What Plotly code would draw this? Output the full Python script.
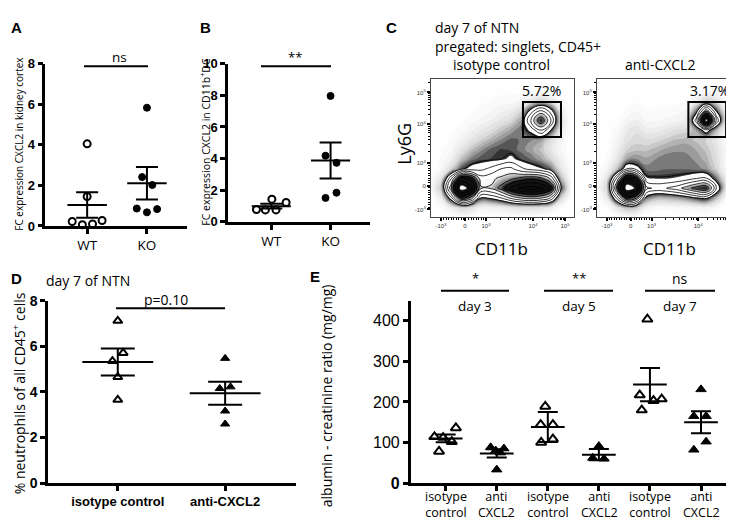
import math
import plotly.graph_objects as go

W, H = 734, 523


def PX(x):
    return x / W


def PY(y):
    return 1 - y / H


TXT = "Open Sans"
NUM = "Liberation Sans"

# ---------------- Panel A data ----------------
A_labels = ["WT", "KO"]
A_wt = [4.05, 1.45, 0.22, 0.06, 0.10, 0.27]
A_wt_jit = [0.0, 0.0, -0.25, -0.08, 0.09, 0.25]
A_ko = [5.83, 2.41, 2.02, 0.86, 0.67, 0.83]
A_ko_jit = [0.0, -0.08, 0.09, -0.17, 0.0, 0.17]
A_mean = [1.03, 2.11]
A_sem = [0.63, 0.80]

# ---------------- Panel B data ----------------
B_labels = ["WT", "KO"]
B_wt = [0.78, 0.75, 0.75, 1.43, 1.22]
B_wt_jit = [-0.25, -0.10, 0.08, 0.01, 0.25]
B_ko = [7.96, 4.18, 3.73, 1.51, 1.84]
B_ko_jit = [0.0, -0.085, 0.10, -0.085, 0.10]
B_mean = [0.99, 3.88]
B_sem = [0.15, 1.14]

# ---------------- Panel D data ----------------
D_labels = ["isotype control", "anti-CXCL2"]
D_iso = [7.12, 5.71, 5.35, 4.65, 3.65]
D_iso_jit = [0.0, 0.05, -0.05, 0.0, 0.0]
D_anti = [5.47, 4.15, 4.22, 3.16, 2.59]
D_anti_jit = [0.0, -0.05, 0.05, 0.0, 0.0]
D_mean = [5.31, 3.94]
D_sem = [0.59, 0.50]

# ---------------- Panel E data ----------------
E_labels = ["isotype<br>control", "anti<br>CXCL2"] * 3
E_days = ["day 3", "day 5", "day 7"]
E_iso_d3 = [136, 114, 112, 102, 78]
E_iso_d3_jit = [0.20, -0.22, -0.05, 0.12, -0.13]
E_anti_d3 = [88, 85, 80, 75, 33]
E_anti_d3_jit = [-0.12, 0.14, -0.02, 0.07, 0.0]
E_iso_d5 = [189, 144, 144, 100, 108]
E_iso_d5_jit = [-0.05, -0.14, 0.10, -0.13, 0.10]
E_anti_d5 = [91, 62, 60]
E_anti_d5_jit = [0.0, -0.12, 0.10]
E_iso_d7 = [404, 217, 180, 203, 207]
E_iso_d7_jit = [-0.05, -0.20, -0.16, 0.07, 0.23]
E_anti_d7 = [231, 165, 165, 82, 102]
E_anti_d7_jit = [0.0, -0.14, 0.10, -0.14, 0.10]
E_mean = [110, 73, 138, 70, 243, 150]
E_sem = [9.5, 10, 37, 14, 41, 27]

# ---------------- Panel C (flow density, read by eye, rows top->bottom) ----------------
C_grid_x = [0, 10, 20, 30, 40, 50, 60, 70, 80, 90, 100, 110, 120, 130, 140]
C_grid_y_top_down = [140, 130, 120, 110, 100, 90, 80, 70, 60, 50, 40, 30, 20, 10, 0]
C_iso_density = [
    [0, 0, 0, 0, 0, 0, 0.15, 0.2, 0.2, 0.2, 0.2, 0.2, 0.15, 0, 0],
    [0, 0, 0, 0, 0.1, 0.2, 0.3, 0.3, 0.3, 0.3, 0.4, 0.4, 0.3, 0.1, 0],
    [0, 0, 0, 0.1, 0.2, 0.3, 0.4, 0.5, 0.5, 0.7, 1.2, 1.6, 1.2, 0.5, 0.2],
    [0, 0, 0, 0.2, 0.3, 0.5, 0.6, 0.8, 1.0, 1.5, 3.4, 4.8, 3.4, 1.0, 0.3],
    [0, 0, 0.2, 0.3, 0.5, 0.7, 0.9, 1.2, 1.5, 2.2, 4.8, 7.0, 4.6, 1.3, 0.3],
    [0, 0, 0.3, 0.5, 0.8, 1.1, 1.4, 1.8, 2.2, 2.6, 3.3, 4.6, 3.0, 1.0, 0.3],
    [0, 0.2, 0.4, 0.8, 1.2, 1.6, 2.0, 2.4, 2.7, 2.6, 2.4, 2.2, 1.4, 0.7, 0.2],
    [0, 0.3, 0.6, 1.2, 1.8, 2.3, 2.7, 2.9, 2.8, 2.5, 2.2, 1.8, 1.2, 0.6, 0.2],
    [0.1, 0.4, 0.9, 1.8, 2.5, 2.8, 2.9, 3.0, 3.3, 2.9, 2.6, 2.2, 1.6, 0.9, 0.3],
    [0.2, 0.6, 1.5, 2.8, 3.4, 3.6, 4.0, 4.6, 4.8, 4.0, 3.5, 3.2, 2.6, 1.2, 0.4],
    [0.4, 1.2, 4.5, 8.0, 7.5, 5.0, 5.2, 5.6, 6.0, 6.5, 6.8, 6.5, 5.2, 2.0, 0.5],
    [0.5, 1.8, 6.0, 10, 9.0, 5.5, 5.5, 6.5, 8.0, 8.8, 9.0, 8.8, 7.6, 3.0, 0.6],
    [0.3, 1.0, 3.5, 7.0, 6.0, 3.0, 3.2, 3.8, 4.8, 5.5, 5.8, 5.5, 4.5, 1.6, 0.3],
    [0.1, 0.4, 1.0, 1.6, 1.4, 0.8, 0.8, 1.0, 1.2, 1.4, 1.4, 1.3, 1.0, 0.4, 0.1],
    [0, 0.1, 0.3, 0.5, 0.4, 0.2, 0.2, 0.2, 0.3, 0.3, 0.3, 0.3, 0.2, 0.1, 0],
]
C_anti_density = [
    [0, 0, 0, 0.1, 0.1, 0.1, 0.1, 0.1, 0.1, 0.1, 0.1, 0.2, 0.1, 0.1, 0],
    [0, 0, 0.1, 0.2, 0.2, 0.2, 0.2, 0.2, 0.2, 0.2, 0.3, 0.5, 0.4, 0.2, 0],
    [0, 0, 0.1, 0.2, 0.3, 0.3, 0.3, 0.3, 0.3, 0.4, 0.9, 1.8, 1.4, 0.4, 0.1],
    [0, 0.1, 0.2, 0.4, 0.6, 0.4, 0.4, 0.4, 0.5, 0.7, 2.6, 6.0, 3.0, 0.8, 0.1],
    [0, 0.1, 0.3, 0.7, 0.9, 0.6, 0.6, 0.7, 0.8, 1.0, 4.2, 10, 4.6, 1.0, 0.1],
    [0, 0.2, 0.5, 1.1, 1.3, 1.0, 1.0, 1.2, 1.4, 1.5, 2.2, 3.6, 2.0, 0.7, 0.1],
    [0, 0.2, 0.7, 1.3, 1.5, 1.4, 1.5, 1.7, 1.9, 2.0, 1.8, 1.6, 1.2, 0.5, 0.1],
    [0, 0.3, 0.9, 1.6, 1.8, 1.8, 2.0, 2.2, 2.3, 2.3, 2.1, 1.8, 1.3, 0.6, 0.1],
    [0.1, 0.4, 1.2, 2.2, 2.4, 2.2, 2.4, 2.6, 2.6, 2.5, 2.3, 2.0, 1.4, 0.6, 0.1],
    [0.2, 0.7, 1.8, 3.8, 3.4, 2.5, 2.5, 2.6, 2.6, 2.6, 2.5, 2.3, 1.6, 0.6, 0.2],
    [0.3, 1.2, 4.8, 8.5, 7.5, 3.2, 3.1, 3.1, 3.2, 3.4, 3.8, 3.9, 2.6, 1.0, 0.3],
    [0.4, 1.6, 6.5, 10, 9.2, 4.8, 4.4, 4.6, 5.0, 5.8, 6.6, 7.0, 4.0, 1.2, 0.3],
    [0.2, 1.0, 4.0, 7.2, 6.2, 2.6, 2.0, 2.0, 2.2, 2.5, 3.0, 3.2, 2.0, 0.6, 0.2],
    [0.1, 0.4, 1.2, 2.0, 1.8, 0.8, 0.5, 0.5, 0.6, 0.6, 0.7, 0.8, 0.5, 0.2, 0.1],
    [0, 0.1, 0.3, 0.5, 0.4, 0.2, 0.1, 0.1, 0.1, 0.1, 0.1, 0.1, 0.1, 0, 0],
]
C_percent = ["5.72%", "3.17%"]
C_titles = ["isotype control", "anti-CXCL2"]
C_x_ticktext = ["-10<sup>3</sup>", "0", "10<sup>3</sup>", "10<sup>4</sup>", "10<sup>5</sup>"]
C_y_ticktext = ["-10<sup>3</sup>", "0", "10<sup>3</sup>", "10<sup>4</sup>", "10<sup>5</sup>"]

fig = go.Figure()


def dots(xa, ya, center, vals, jit, symbol, size, lw):
    fig.add_trace(go.Scatter(
        x=[center + j for j in jit], y=vals, mode="markers", xaxis=xa, yaxis=ya,
        marker=dict(symbol=symbol, size=size, color="black",
                    line=dict(color="black", width=lw)),
        cliponaxis=False, showlegend=False, hoverinfo="skip"))


def mean_sem(xa, ya, means, sems, half, cap, lw):
    for c, m in enumerate(means):
        fig.add_trace(go.Scatter(
            x=[c - half, c + half], y=[m, m], mode="lines", xaxis=xa, yaxis=ya,
            line=dict(color="black", width=lw), cliponaxis=False,
            showlegend=False, hoverinfo="skip"))
    fig.add_trace(go.Scatter(
        x=list(range(len(means))), y=means, mode="markers", xaxis=xa, yaxis=ya,
        marker=dict(size=1, color="rgba(0,0,0,0)"),
        error_y=dict(type="data", array=sems, width=cap, thickness=lw, color="black"),
        cliponaxis=False, showlegend=False, hoverinfo="skip"))


# Panel A
dots("x", "y", 0, A_wt, A_wt_jit, "circle-open", 7, 2)
dots("x", "y", 1, A_ko, A_ko_jit, "circle", 7, 1)
mean_sem("x", "y", A_mean, A_sem, 0.33, 11, 2)

# Panel B
dots("x2", "y2", 0, B_wt, B_wt_jit, "circle-open", 7, 2)
dots("x2", "y2", 1, B_ko, B_ko_jit, "circle", 7, 1)
mean_sem("x2", "y2", B_mean, B_sem, 0.33, 11, 2)

# Panel D
dots("x5", "y5", 0, D_iso, D_iso_jit, "triangle-up-open", 8, 2)
dots("x5", "y5", 1, D_anti, D_anti_jit, "triangle-up", 8, 1)
mean_sem("x5", "y5", D_mean, D_sem, 0.33, 17, 2)

# Panel E
E_sets = [(E_iso_d3, E_iso_d3_jit, True), (E_anti_d3, E_anti_d3_jit, False),
          (E_iso_d5, E_iso_d5_jit, True), (E_anti_d5, E_anti_d5_jit, False),
          (E_iso_d7, E_iso_d7_jit, True), (E_anti_d7, E_anti_d7_jit, False)]
for i, (vals, jit, iso) in enumerate(E_sets):
    dots("x6", "y6", i, vals, jit, "triangle-up-open" if iso else "triangle-up", 9, 2 if iso else 1)
mean_sem("x6", "y6", E_mean, E_sem, 0.33, 10, 2)

# Panel C flow plots
grid_y = C_grid_y_top_down[::-1]
fill_scale = [
    [0.0, "#ffffff"], [0.03, "#fcfcfc"], [0.08, "#f0f0f0"], [0.15, "#d8d8d8"],
    [0.22, "#9a9a9a"], [0.295, "#333333"], [0.30, "#ffffff"], [0.52, "#ffffff"],
    [0.62, "#7a7a7a"], [0.70, "#161616"], [0.955, "#0c0c0c"], [0.96, "#ffffff"],
    [1.0, "#ffffff"]]
for dens, xa, ya in [(C_iso_density, "x3", "y3"), (C_anti_density, "x4", "y4")]:
    z = dens[::-1]
    fig.add_trace(go.Contour(
        x=C_grid_x, y=grid_y, z=z, xaxis=xa, yaxis=ya, zmin=0, zmax=10,
        colorscale=fill_scale, showscale=False, hoverinfo="skip",
        contours=dict(coloring="fill", start=0.125, end=10, size=0.25, showlines=False),
        line=dict(width=0, smoothing=1.3)))
    fig.add_trace(go.Contour(
        x=C_grid_x, y=grid_y, z=z, xaxis=xa, yaxis=ya,
        colorscale=[[0, "black"], [1, "black"]], showscale=False, hoverinfo="skip",
        contours=dict(coloring="lines", start=3, end=9.4, size=0.8),
        line=dict(width=0.8, smoothing=1.3)))

# ---------------- layout ----------------
axis_common = dict(showline=True, linecolor="black", linewidth=2.5, ticks="outside",
                   ticklen=5, tickwidth=2.5, tickcolor="black", showgrid=False,
                   zeroline=False, fixedrange=True)


def xdom(a, b):
    return [PX(a), PX(b)]


def ydom(top, bottom):
    return [PY(bottom), PY(top)]


layout = dict(
    width=W, height=H, margin=dict(l=0, r=0, t=0, b=0),
    paper_bgcolor="white", plot_bgcolor="rgba(0,0,0,0)", showlegend=False,
    font=dict(family=TXT, color="black"),
)

# A
layout["xaxis"] = dict(axis_common, domain=xdom(37.3, 179), range=[-0.7, 1.67], anchor="y",
                       tickvals=[0, 1], ticktext=A_labels, tickfont=dict(family=TXT, size=13.5))
layout["yaxis"] = dict(axis_common, domain=ydom(49.3, 217), range=[0, 8], anchor="x",
                       tickvals=[0, 2, 4, 6, 8], tickfont=dict(family=NUM, size=13),
                       ticktext=["<b>%d</b>" % v for v in [0, 2, 4, 6, 8]])
# B
layout["xaxis2"] = dict(axis_common, domain=xdom(220, 361.7), range=[-0.73, 1.66], anchor="y2",
                        tickvals=[0, 1], ticktext=B_labels, tickfont=dict(family=TXT, size=13.5))
layout["yaxis2"] = dict(axis_common, domain=ydom(49.3, 212.7), range=[0, 10], anchor="x2",
                        tickvals=[0, 2, 4, 6, 8, 10], tickfont=dict(family=NUM, size=13),
                        ticktext=["<b>%d</b>" % v for v in [0, 2, 4, 6, 8, 10]])

# C flow axes
fx_major = [10, 34, 55, 102, 134]
fy_major = [8, 32, 56, 96, 129]


def minor_positions(major, lo_gap_step=2.5):
    vals = []
    v = major[0] + lo_gap_step
    while v < major[2] - 1:
        if abs(v - major[1]) > 1:
            vals.append(round(v, 2))
        v += lo_gap_step
    for a, b in [(major[2], major[3]), (major[3], major[4])]:
        for k in range(2, 10):
            vals.append(round(a + (b - a) * math.log10(k), 2))
    for k in range(2, 4):
        p = major[4] + (major[4] - major[3]) * math.log10(k)
        if p < 143:
            vals.append(round(p, 2))
    return vals


flow_x = dict(showline=True, linecolor="#444", linewidth=1, mirror=True, ticks="outside",
              ticklen=3, tickwidth=1.5, tickcolor="black", showgrid=False, zeroline=False,
              range=[0, 143], tickvals=fx_major, ticktext=C_x_ticktext,
              tickfont=dict(family=NUM, size=6, color="#333"), fixedrange=True,
              minor=dict(tickmode="array", tickvals=minor_positions(fx_major), ticks="outside",
                         ticklen=2, tickwidth=1, tickcolor="black"))
flow_y = dict(showline=True, linecolor="#444", linewidth=1, mirror=True, ticks="outside",
              ticklen=3, tickwidth=1.5, tickcolor="black", showgrid=False, zeroline=False,
              range=[0, 143], tickvals=fy_major, ticktext=C_y_ticktext,
              tickfont=dict(family=NUM, size=6, color="#333"), fixedrange=True,
              minor=dict(tickmode="array", tickvals=minor_positions(fy_major), ticks="outside",
                         ticklen=2, tickwidth=1, tickcolor="black"))
layout["xaxis3"] = dict(flow_x, domain=xdom(423, 566), anchor="y3")
layout["yaxis3"] = dict(flow_y, domain=ydom(65, 208), anchor="x3")
layout["xaxis4"] = dict(flow_x, domain=xdom(589, 731), anchor="y4")
layout["yaxis4"] = dict(flow_y, domain=ydom(65, 208), anchor="x4")

# D
layout["xaxis5"] = dict(axis_common, domain=xdom(40, 288), range=[-0.65, 1.66], anchor="y5",
                        tickvals=[0, 1], ticktext=["<b>%s</b>" % s for s in D_labels],
                        tickfont=dict(family=NUM, size=13))
layout["yaxis5"] = dict(axis_common, domain=ydom(294.3, 482.7), range=[0, 8], anchor="x5",
                        tickvals=[0, 2, 4, 6, 8], tickfont=dict(family=NUM, size=14),
                        ticktext=["<b>%d</b>" % v for v in [0, 2, 4, 6, 8]])
# E
layout["xaxis6"] = dict(axis_common, domain=xdom(402.7, 726.7), range=[-0.685, 5.66], anchor="y6",
                        tickvals=list(range(6)), showticklabels=False)
layout["yaxis6"] = dict(axis_common, domain=ydom(295, 482.7), range=[0, 448], anchor="x6",
                        tickvals=[0, 100, 200, 300, 400],
                        ticktext=["<b>0</b>", "100", "200", "300", "400"],
                        tickfont=dict(family=NUM, size=16))

fig.update_layout(**layout)


def ann(text, x, y, size, family=TXT, bold=False, angle=0, xanchor="center", yanchor="middle"):
    fig.add_annotation(text=("<b>%s</b>" % text) if bold else text, x=PX(x), y=PY(y),
                       xref="paper", yref="paper", showarrow=False, textangle=angle,
                       xanchor=xanchor, yanchor=yanchor, borderpad=0,
                       font=dict(family=family, size=size, color="black"))


def hline(x0, x1, y, w=2):
    fig.add_shape(type="line", xref="paper", yref="paper", x0=PX(x0), x1=PX(x1),
                  y0=PY(y), y1=PY(y), line=dict(color="black", width=w))


# panel letters
for t, x, y in [("A", 8, 12), ("B", 197, 12), ("C", 384, 12), ("D", 8, 271), ("E", 307, 269)]:
    ann(t, x, y, 15, family=NUM, bold=True)

# A / B
ann("FC expression CXCL2 in kidney cortex", 11, 132, 10, angle=-90)
ann("FC expression CXCL2 in CD11b<sup>+</sup>DC", 197, 130, 10.5, angle=-90)
ann("ns", 111.7, 42.7, 13.5)
hline(76, 140, 52)
ann("**", 287, 42, 13)
hline(253, 323, 52)

# C
ann("day 7 of NTN", 426, 12, 14, xanchor="left")
ann("pregated: singlets, CD45+", 426, 32, 14, xanchor="left")
ann(C_titles[0], 494, 50, 14)
ann(C_titles[1], 652, 50, 14)
ann("Ly6G", 396, 132, 18, angle=-90)
ann("CD11b", 494, 240, 17)
ann("CD11b", 661, 240, 17)
ann(C_percent[0], 533, 77, 14)
ann(C_percent[1], 701, 77, 14)
for xa, ya in [("x3", "y3"), ("x4", "y4")]:
    fig.add_shape(type="rect", xref=xa, yref=ya, x0=92, x1=130, y0=83, y1=119,
                  line=dict(color="black", width=2))

# D
ann("day 7 of NTN", 37, 273, 14, xanchor="left")
ann("% neutrophils of all CD45<sup>+</sup> cells", 11, 390, 14, angle=-90)
ann("p=0.10", 158, 293, 14)
hline(108, 217, 302)

# E
ann("albumin - creatinine ratio (mg/mg)", 318, 393, 14, angle=-90)
for star, day, xl, xr in [("*", E_days[0], 433, 501), ("**", E_days[1], 536, 605), ("ns", E_days[2], 637, 707)]:
    xc = (xl + xr) / 2
    ann(star, xc, 271, 13 if star != "ns" else 14)
    hline(xl, xr, 284)
    ann(day, xc, 300, 13.5)
E_cat_px = [437.7, 488.8, 539.9, 591.0, 642.1, 693.2]
for xc, lab in zip(E_cat_px, E_labels):
    ann(lab, xc, 522.5, 12.5, yanchor="bottom")

fig.write_html("out.html")
